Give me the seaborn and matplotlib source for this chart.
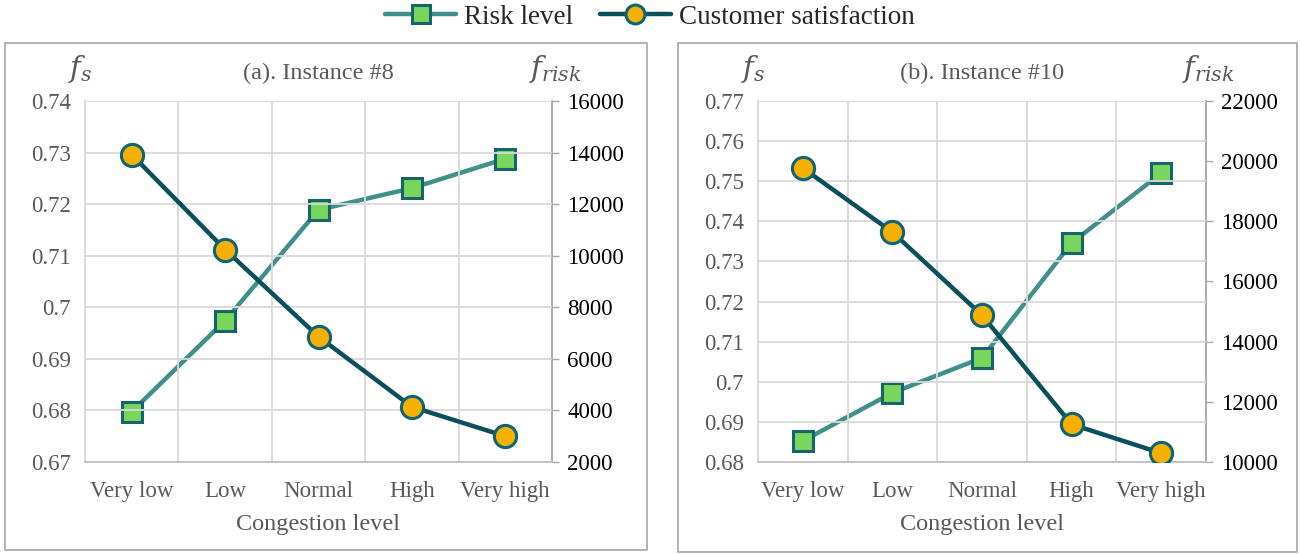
import matplotlib
matplotlib.use("Agg")
import matplotlib.pyplot as plt
import seaborn as sns
from matplotlib.patches import Rectangle

# data
levels = ["Very low", "Low", "Normal", "High", "Very high"]

sat_a = [0.7296, 0.7112, 0.6943, 0.6807, 0.6750]
risk_a = [3950, 7480, 11780, 12620, 13760]

sat_b = [0.7533, 0.7373, 0.7166, 0.6894, 0.6822]
risk_b = [10700, 12300, 13460, 17280, 19600]

panels = [
    ("(a). Instance #8", sat_a, risk_a, (0.67, 0.74), [0.67, 0.68, 0.69, 0.70, 0.71, 0.72, 0.73, 0.74],
     ["0.67", "0.68", "0.69", "0.7", "0.71", "0.72", "0.73", "0.74"], (2000, 16000), list(range(2000, 16001, 2000))),
    ("(b). Instance #10", sat_b, risk_b, (0.68, 0.77), [0.68, 0.69, 0.70, 0.71, 0.72, 0.73, 0.74, 0.75, 0.76, 0.77],
     ["0.68", "0.69", "0.7", "0.71", "0.72", "0.73", "0.74", "0.75", "0.76", "0.77"], (10000, 22000), list(range(10000, 22001, 2000))),
]

sns.set_style("white")
plt.rcParams['font.family'] = ['Liberation Serif', 'DejaVu Serif']
plt.rcParams['mathtext.fontset'] = 'dejavuserif'

risk_line = '#3f8f8b'
risk_face = '#77d65b'
risk_edge = '#16646e'
sat_line = '#0b4f5c'
sat_face = '#f5b000'
sat_edge = '#0e6472'
grid_c = '#d9d9d9'
label_c = '#595959'

fig = plt.figure(figsize=(13, 5.54), dpi=100)

# panel frames (pixel boxes -> figure fraction)
W, H = 1300, 554
for x0, y0, x1, y1 in [(5, 43, 647, 550), (678, 43, 1297, 552)]:
    fig.patches.append(Rectangle((x0 / W, 1 - y1 / H), (x1 - x0) / W, (y1 - y0) / H,
                                 transform=fig.transFigure, fill=False, edgecolor='#a6a6a6', lw=1.2))

axes_pos = [(85, 552), (758, 1206)]
top, bottom = 101, 462

handles = None
for (title, sat, risk, ylim, yt, ytl, rlim, rt), (px0, px1) in zip(panels, axes_pos):
    ax = fig.add_axes([px0 / W, 1 - bottom / H, (px1 - px0) / W, (bottom - top) / H])
    ax2 = ax.twinx()

    sns.lineplot(x=levels, y=risk, ax=ax2, color=risk_line, lw=3.2, marker='s', markersize=15,
                 markerfacecolor=risk_face, markeredgecolor=risk_edge, markeredgewidth=2.2,
                 label='Risk level', legend=False, zorder=3)
    sns.lineplot(x=levels, y=sat, ax=ax, color=sat_line, lw=3.2, marker='o', markersize=16,
                 markerfacecolor=sat_face, markeredgecolor=sat_edge, markeredgewidth=2.2,
                 label='Customer satisfaction', legend=False, zorder=3)
    ax.set_zorder(ax2.get_zorder() + 1)
    ax.patch.set_visible(False)

    ax.set_xlim(-0.5, 4.5)
    ax.set_ylim(*ylim)
    ax.set_yticks(yt)
    ax.set_yticklabels(ytl)
    ax2.set_ylim(*rlim)
    ax2.set_yticks(rt)

    # gridlines: horizontal at ticks, vertical between categories
    ax.set_xticks([0.5, 1.5, 2.5, 3.5], minor=True)
    ax.grid(True, axis='y', color=grid_c, lw=1.3)
    ax.grid(True, axis='x', which='minor', color=grid_c, lw=1.3)
    ax.grid(False, axis='x', which='major')
    ax.set_axisbelow(True)
    ax2.grid(False)

    ax.tick_params(axis='x', which='both', length=0, labelsize=16.5, labelcolor=label_c, pad=14)
    ax.tick_params(axis='y', length=0, labelsize=16.5, labelcolor=label_c, pad=10)
    ax2.tick_params(axis='y', length=5, width=1, color='#a6a6a6', labelsize=16.5, labelcolor='black', pad=6)

    for a in (ax, ax2):
        for s in a.spines.values():
            s.set_visible(False)
    ax.spines['bottom'].set_visible(True)
    ax.spines['bottom'].set_color('#bfbfbf')
    ax.spines['bottom'].set_linewidth(1.3)
    ax.spines['left'].set_visible(True)
    ax.spines['left'].set_color(grid_c)
    ax.spines['left'].set_linewidth(1.3)
    ax2.spines['right'].set_visible(True)
    ax2.spines['right'].set_color('#a6a6a6')
    ax2.spines['right'].set_linewidth(1.3)

    ax.set_xlabel('Congestion level', fontsize=17.5, color=label_c, labelpad=8)
    ax.set_ylabel('')
    ax2.set_ylabel('')

    ax.set_title(title, fontsize=17.5, color=label_c, pad=16)
    ax.text(-0.01, 1.045, r'$f_s$', transform=ax.transAxes, fontsize=21, color=label_c,
            ha='center', va='bottom')
    ax.text(1.006, 1.045, r'$f_{risk}$', transform=ax.transAxes, fontsize=21, color=label_c,
            ha='center', va='bottom')

    if handles is None:
        handles = ax2.get_lines()[:1] + ax.get_lines()[:1]

fig.legend(handles, ['Risk level', 'Customer satisfaction'], loc='center', bbox_to_anchor=(0.5, 1 - 17 / H),
           ncol=2, frameon=False, fontsize=19.5, handlelength=2.6, columnspacing=1.0, handletextpad=0.3,
           markerscale=0.85)

fig.savefig('out.png', dpi=100)
